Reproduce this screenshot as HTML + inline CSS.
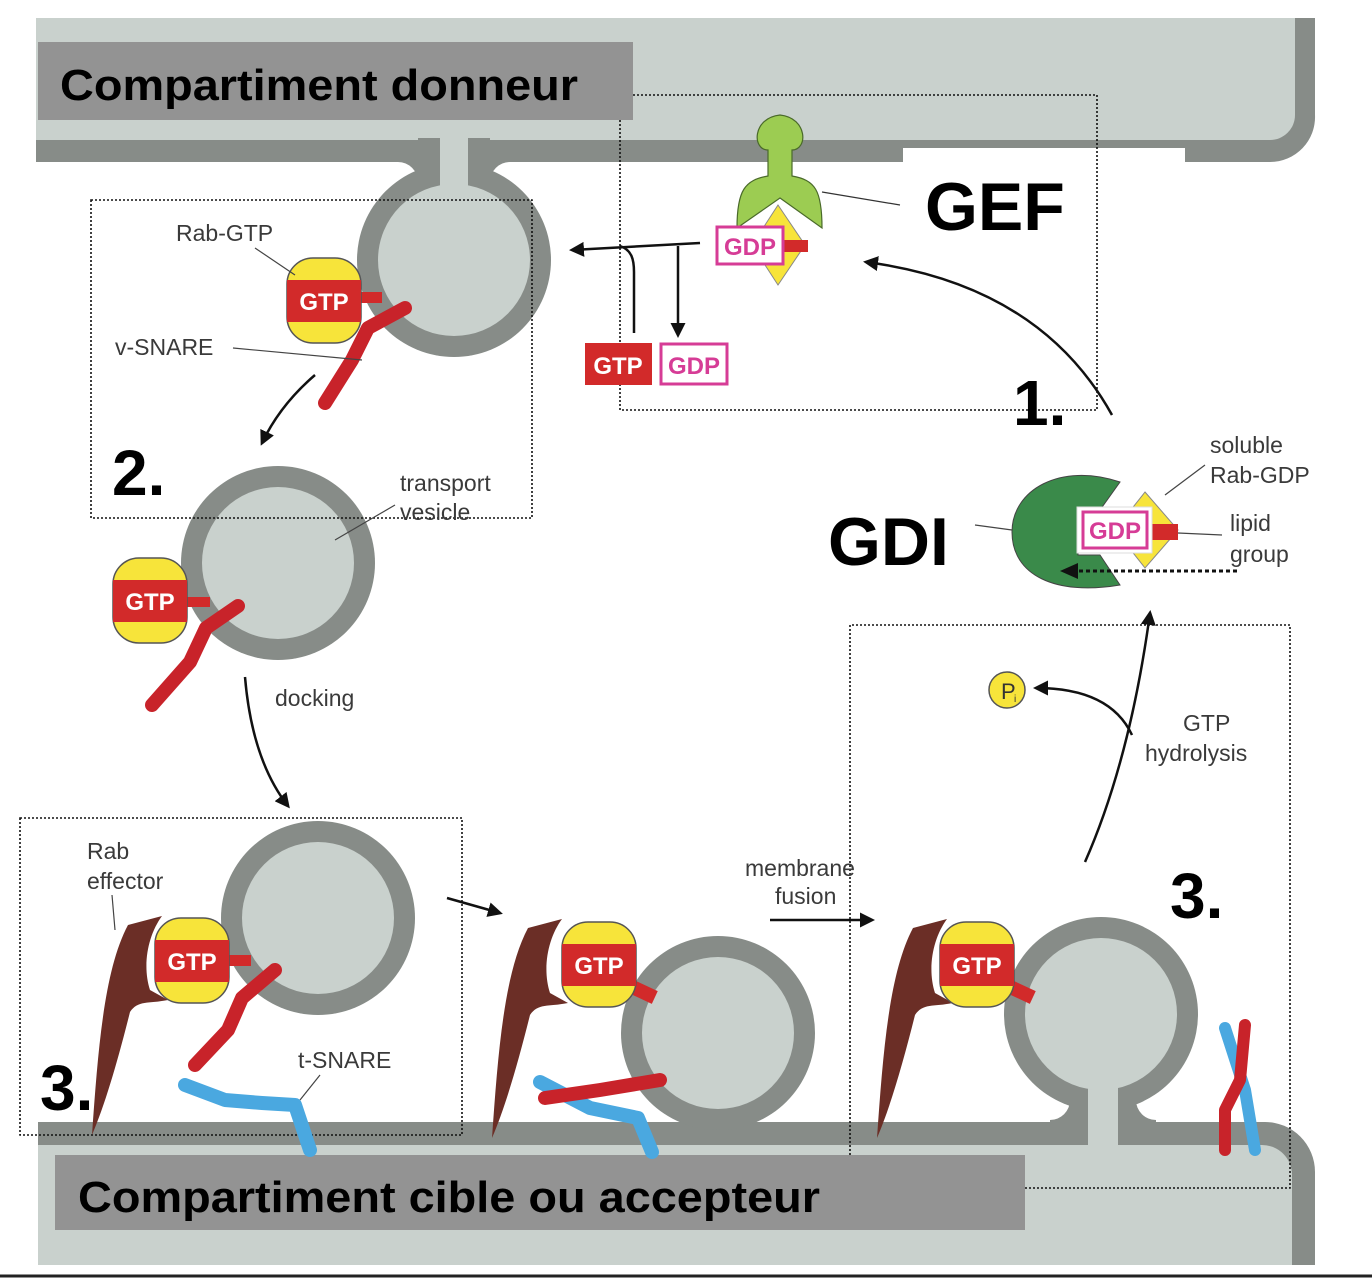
<!DOCTYPE html>
<html><head><meta charset="utf-8"><style>
html,body{margin:0;padding:0;background:#fff;}
svg{display:block;}
.s{font-family:"Liberation Sans",sans-serif;fill:#3a3a3a;font-size:23px;}
.b{font-family:"Liberation Sans",sans-serif;font-weight:bold;fill:#000;}
.g{font-family:"Liberation Sans",sans-serif;font-weight:bold;fill:#fff;font-size:24px;text-anchor:middle;}
.p{font-family:"Liberation Sans",sans-serif;font-weight:bold;fill:#d63c96;font-size:24px;text-anchor:middle;}
</style></head><body>
<svg width="1372" height="1278" viewBox="0 0 1372 1278" xmlns="http://www.w3.org/2000/svg">
<defs>
<marker id="ah" viewBox="0 0 10 10" refX="8" refY="5" markerWidth="6" markerHeight="6" orient="auto"><path d="M0,0 L10,5 L0,10 Z" fill="#111"/></marker>
<g id="rab">
<rect x="0" y="0" width="74" height="85" rx="26" fill="#f7e43a" stroke="#555" stroke-width="1.5"/>
<rect x="0" y="22" width="74" height="42" fill="#d22a2a"/>
<text x="37" y="52" class="g">GTP</text>
</g>
<path id="eff" d="M92,1135 C98,1050 104,970 128,925 L162,916 C148,935 142,965 150,990 L168,1000 C148,1004 138,1000 130,1012 C118,1060 105,1105 92,1135Z" fill="#6b2e26"/>
</defs>

<!-- top compartment -->
<path d="M36,18 H1315 V115 A45,45 0 0 1 1270,162 H36 Z" fill="#878c88"/>
<path d="M36,18 H1295 V115 A25,25 0 0 1 1270,140 H36 Z" fill="#c9d1cd"/>
<!-- bud -->
<rect x="398" y="155" width="20" height="25" fill="#878c88"/>
<rect x="490" y="155" width="20" height="25" fill="#878c88"/>
<circle cx="398" cy="182" r="20" fill="#fff"/>
<circle cx="510" cy="182" r="20" fill="#fff"/>
<circle cx="454" cy="260" r="97" fill="#878c88"/>
<rect x="418" y="138" width="72" height="70" fill="#878c88"/>
<rect x="440" y="130" width="28" height="90" fill="#c9d1cd"/>
<circle cx="454" cy="260" r="76" fill="#c9d1cd"/>
<!-- GEF white box -->
<rect x="903" y="148" width="282" height="100" fill="#fff"/>

<!-- bottom compartment -->
<path d="M38,1122 H1265 A50,50 0 0 1 1315,1172 V1265 H38 Z" fill="#878c88"/>
<path d="M38,1145 H1262 A30,30 0 0 1 1292,1175 V1265 H38 Z" fill="#c9d1cd"/>
<!-- fused vesicle -->
<rect x="1050" y="1100" width="20" height="24" fill="#878c88"/>
<rect x="1136" y="1100" width="20" height="24" fill="#878c88"/>
<circle cx="1050" cy="1100" r="20" fill="#fff"/>
<circle cx="1156" cy="1100" r="20" fill="#fff"/>
<circle cx="1101" cy="1014" r="97" fill="#878c88"/>
<rect x="1070" y="1060" width="66" height="66" fill="#878c88"/>
<rect x="1088" y="1050" width="30" height="100" fill="#c9d1cd"/>
<circle cx="1101" cy="1014" r="76" fill="#c9d1cd"/>
<!-- middle vesicle -->
<circle cx="718" cy="1033" r="97" fill="#878c88"/><circle cx="718" cy="1033" r="76" fill="#c9d1cd"/>
<!-- vesicle 2 -->
<circle cx="278" cy="563" r="97" fill="#878c88"/><circle cx="278" cy="563" r="76" fill="#c9d1cd"/>
<!-- vesicle 3 -->
<circle cx="318" cy="918" r="97" fill="#878c88"/><circle cx="318" cy="918" r="76" fill="#c9d1cd"/>

<!-- label boxes -->
<rect x="38" y="42" width="595" height="78" fill="#939393"/>
<text x="60" y="100" class="b" font-size="44" textLength="518" lengthAdjust="spacingAndGlyphs">Compartiment donneur</text>
<rect x="55" y="1155" width="970" height="75" fill="#939393"/>
<text x="78" y="1212" class="b" font-size="44" textLength="742" lengthAdjust="spacingAndGlyphs">Compartiment cible ou accepteur</text>

<!-- dotted boxes -->
<g fill="none" stroke="#111" stroke-width="1.6" stroke-dasharray="2,2">
<path d="M633,95 H1097 V410 H620 V120"/>
<rect x="91" y="200" width="441" height="318"/>
<rect x="20" y="818" width="442" height="317"/>
<path d="M850,1155 V625 H1290 V1188 H1025"/>
</g>

<!-- effectors -->
<use href="#eff"/>
<use href="#eff" x="400" y="3"/>
<use href="#eff" x="785" y="3"/>

<!-- SNAREs -->
<g fill="none" stroke-linecap="round" stroke-linejoin="round">
<path d="M405,308 L368,328 L352,360 L325,403" stroke="#c8232a" stroke-width="14"/>
<path d="M238,606 L206,628 L190,662 L152,705" stroke="#c8232a" stroke-width="14"/>
<path d="M275,970 L242,998 L228,1030 L195,1065" stroke="#c8232a" stroke-width="14"/>
<path d="M185,1085 L225,1100 L262,1103 L295,1105 L310,1150" stroke="#4aa8e0" stroke-width="14"/>
<path d="M540,1082 L590,1108 L638,1118 L652,1152" stroke="#4aa8e0" stroke-width="14"/>
<path d="M545,1098 L600,1090 L660,1080" stroke="#c8232a" stroke-width="14"/>
<path d="M1225,1028 L1245,1090 L1255,1150" stroke="#4aa8e0" stroke-width="12"/>
<path d="M1245,1025 L1240,1080 L1225,1110 L1225,1150" stroke="#c8232a" stroke-width="12"/>
</g>
<!-- connectors -->
<rect x="358" y="292" width="24" height="11" fill="#d22a2a"/>
<rect x="186" y="597" width="24" height="10" fill="#d22a2a"/>
<rect x="227" y="955" width="24" height="11" fill="#d22a2a"/>
<rect x="630" y="985" width="26" height="14" fill="#d22a2a" transform="rotate(25 643 992)"/>
<rect x="1008" y="985" width="26" height="14" fill="#d22a2a" transform="rotate(25 1021 992)"/>

<!-- Rabs -->
<use href="#rab" x="287" y="258"/>
<use href="#rab" x="113" y="558"/>
<use href="#rab" x="155" y="918"/>
<use href="#rab" x="562" y="922"/>
<use href="#rab" x="940" y="922"/>

<!-- GEF -->
<path d="M768,150 C752,150 752,118 780,115 C808,118 808,150 792,150 L792,176 C815,180 822,190 822,228 L780,198 L737,228 C737,190 745,180 768,176 Z" fill="#9ccc52" stroke="#4a6a2a" stroke-width="1.2"/>
<path d="M778,205 L805,245 L778,285 L752,245 Z" fill="#f7e43a" stroke="#888" stroke-width="1"/>
<rect x="782" y="240" width="26" height="12" fill="#d22a2a"/>
<rect x="717" y="227" width="66" height="37" fill="#fff" stroke="#d63c96" stroke-width="3"/>
<text x="750" y="255" class="p">GDP</text>
<line x1="822" y1="192" x2="900" y2="205" stroke="#333" stroke-width="1.2"/>

<!-- GTP/GDP exchange -->
<rect x="585" y="343" width="67" height="42" fill="#d22a2a"/>
<text x="618" y="374" class="g">GTP</text>
<rect x="661" y="344" width="66" height="40" fill="#fff" stroke="#d63c96" stroke-width="3"/>
<text x="694" y="374" class="p">GDP</text>
<g fill="none" stroke="#111" stroke-width="2.5">
<path d="M700,243 L572,250" marker-end="url(#ah)"/>
<path d="M620,246 C632,250 634,260 634,272 V333"/>
<path d="M678,246 V335" marker-end="url(#ah)"/>
<path d="M1112,415 Q1040,285 866,262" marker-end="url(#ah)"/>
<path d="M315,375 Q280,405 262,443" marker-end="url(#ah)"/>
<path d="M245,677 Q252,760 288,806" marker-end="url(#ah)"/>
<path d="M447,898 L500,913" marker-end="url(#ah)"/>
<path d="M770,920 L872,920" marker-end="url(#ah)"/>
<path d="M1085,862 Q1130,760 1150,613" marker-end="url(#ah)"/>
<path d="M1132,735 Q1110,688 1036,688" marker-end="url(#ah)"/>
</g>

<!-- GDI -->
<path d="M1120,482 C1060,462 1012,490 1012,532 C1012,575 1055,596 1120,585 L1100,555 L1078,555 L1078,510 L1100,510 Z" fill="#3a8a4a" stroke="#444" stroke-width="1"/>
<path d="M1145,492 L1178,530 L1145,568 L1115,530 Z" fill="#f7e43a" stroke="#888" stroke-width="1"/>
<rect x="1150" y="524" width="28" height="16" fill="#d22a2a"/>
<rect x="1077" y="507" width="75" height="46" fill="#fff" stroke="#ddd" stroke-width="1"/>
<rect x="1083" y="512" width="64" height="36" fill="#fff" stroke="#d63c96" stroke-width="3"/>
<text x="1115" y="539" class="p">GDP</text>
<line x1="1237" y1="571" x2="1070" y2="571" stroke="#111" stroke-width="3" stroke-dasharray="4,3"/>
<path d="M1060,571 L1078,563 L1078,579 Z" fill="#111"/>
<circle cx="1007" cy="690" r="18" fill="#f7e43a" stroke="#555" stroke-width="1.5"/>
<text x="1001" y="699" font-family="Liberation Sans,sans-serif" font-size="22" fill="#333">P</text>
<text x="1014" y="702" font-family="Liberation Sans,sans-serif" font-size="10" fill="#333">i</text>

<!-- leader lines -->
<g stroke="#444" stroke-width="1.2" fill="none">
<line x1="255" y1="248" x2="295" y2="275"/>
<line x1="233" y1="348" x2="362" y2="360"/>
<line x1="395" y1="505" x2="335" y2="540"/>
<line x1="112" y1="895" x2="115" y2="930"/>
<line x1="320" y1="1075" x2="300" y2="1100"/>
<line x1="975" y1="525" x2="1012" y2="530"/>
<line x1="1205" y1="465" x2="1165" y2="495"/>
<line x1="1178" y1="533" x2="1222" y2="535"/>
</g>

<!-- small labels -->
<text x="176" y="241" class="s">Rab-GTP</text>
<text x="115" y="355" class="s">v-SNARE</text>
<text x="400" y="491" class="s">transport</text>
<text x="400" y="520" class="s">vesicle</text>
<text x="275" y="706" class="s">docking</text>
<text x="87" y="859" class="s">Rab</text>
<text x="87" y="889" class="s">effector</text>
<text x="298" y="1068" class="s">t-SNARE</text>
<text x="745" y="876" class="s">membrane</text>
<text x="775" y="904" class="s">fusion</text>
<text x="1183" y="731" class="s">GTP</text>
<text x="1145" y="761" class="s">hydrolysis</text>
<text x="1210" y="453" class="s">soluble</text>
<text x="1210" y="483" class="s">Rab-GDP</text>
<text x="1230" y="531" class="s">lipid</text>
<text x="1230" y="562" class="s">group</text>

<!-- big labels -->
<text x="925" y="230" class="b" font-size="68">GEF</text>
<text x="828" y="565" class="b" font-size="68">GDI</text>
<text x="1013" y="425" class="b" font-size="64">1.</text>
<text x="112" y="495" class="b" font-size="64">2.</text>
<text x="40" y="1110" class="b" font-size="64">3.</text>
<text x="1170" y="918" class="b" font-size="64">3.</text>
<line x1="0" y1="1276" x2="1372" y2="1276" stroke="#222" stroke-width="3"/>
</svg>
</body></html>
